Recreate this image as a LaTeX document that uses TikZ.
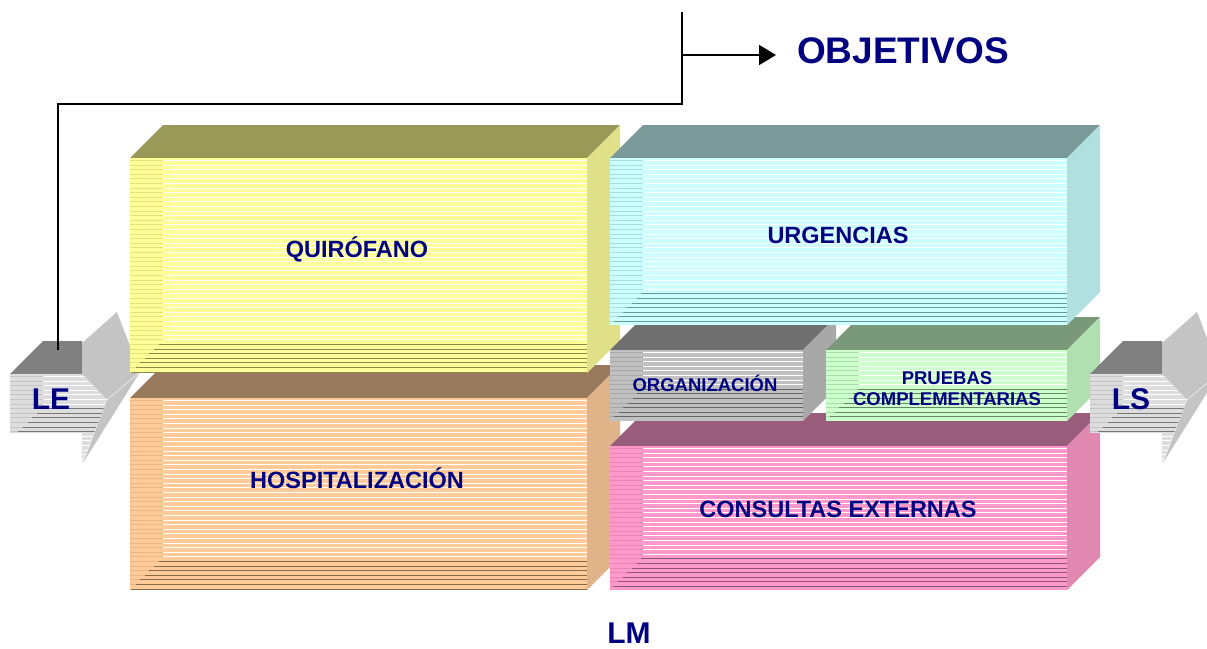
\documentclass[tikz,border=0pt]{standalone}
\usepackage{fontspec}
\setmainfont{Liberation Sans}
\usetikzlibrary{arrows.meta}
\definecolor{navy}{HTML}{000080}
\definecolor{quiF}{HTML}{FFFF99}\definecolor{quiT}{HTML}{999958}\definecolor{quiS}{HTML}{E0E088}\definecolor{quiB}{HTML}{E8E07E}\definecolor{quiD}{HTML}{8A8A48}
\definecolor{urgF}{HTML}{CCFFFF}\definecolor{urgT}{HTML}{7A9999}\definecolor{urgS}{HTML}{B0E0E0}\definecolor{urgB}{HTML}{A8E0E0}\definecolor{urgD}{HTML}{669999}
\definecolor{hosF}{HTML}{FFCC99}\definecolor{hosT}{HTML}{997A5C}\definecolor{hosS}{HTML}{E0B488}\definecolor{hosB}{HTML}{EAB684}\definecolor{hosD}{HTML}{86684C}
\definecolor{orgF}{HTML}{C0C0C0}\definecolor{orgT}{HTML}{707070}\definecolor{orgS}{HTML}{A8A8A8}\definecolor{orgB}{HTML}{A8A8A8}\definecolor{orgD}{HTML}{666666}
\definecolor{pruF}{HTML}{CCFFCC}\definecolor{pruT}{HTML}{7A997A}\definecolor{pruS}{HTML}{B0E0B0}\definecolor{pruB}{HTML}{ACDCAC}\definecolor{pruD}{HTML}{668866}
\definecolor{conF}{HTML}{FF99CC}\definecolor{conT}{HTML}{995C7A}\definecolor{conS}{HTML}{E088B0}\definecolor{conB}{HTML}{E688B4}\definecolor{conD}{HTML}{8A5A74}
\definecolor{arrF}{HTML}{DDDDDD}\definecolor{arrT}{HTML}{808080}\definecolor{arrS}{HTML}{C4C4C4}\definecolor{arrB}{HTML}{C4C4C4}\definecolor{arrD}{HTML}{777777}
% stripes: x0 y0 x1 y1 band dark shadowbottom shadowdepth
\newcommand{\mystripes}[8]{%
  \pgfmathtruncatemacro{\nn}{(#4-#2-2)/4.6}%
  \foreach \i in {0,...,\nn}{%
    \pgfmathsetmacro{\yy}{#2+2.5+4.6*\i}%
    \pgfmathsetmacro{\dd}{\yy-(#7-#8)}%
    \pgfmathtruncatemacro{\wh}{(\dd<0 || \yy>#7) ? 1 : 0}%
    \draw[#5] (#1,\yy) -- (#1+33,\yy);%
    \ifnum\wh=1 \draw[white] (#1+33,\yy) -- (#3,\yy);%
    \else \draw[#6] (#1+33-\dd,\yy) -- (#3,\yy);\fi
  }}
% cuboid: x0 y0 x1 y1 prefix
\newcommand{\mycuboid}[5]{%
  \fill[#5T] (#1,#2) -- (#1+33,#2-33) -- (#3+33,#2-33) -- (#3,#2) -- cycle;
  \fill[#5S] (#3,#2) -- (#3+33,#2-33) -- (#3+33,#4-33) -- (#3,#4) -- cycle;
  \fill[#5F] (#1,#2) rectangle (#3,#4);
  \begin{scope}[line width=1pt]
  \mystripes{#1}{#2}{#3}{#4}{#5B}{#5D}{#4}{33}
  \end{scope}}
% 3D arrow with x offset
\newcommand{\myarrow}[1]{%
  \begin{scope}[xshift=#1pt]
  \fill[arrT] (10,374) -- (43,341) -- (82,341) -- (82,374) -- cycle;
  \fill[arrS] (82,374) -- (82,343) -- (117,312) -- (140,372) -- (83,463) -- (107,400) -- cycle;
  \draw[white!90!gray, line width=0.6pt] (107,400) -- (140,372);
  \fill[arrF] (10,374) -- (82,374) -- (107,400) -- (82,463) -- (82,433) -- (10,433) -- cycle;
  \begin{scope}
  \clip (10,374) -- (82,374) -- (107,400) -- (82,463) -- (82,433) -- (10,433) -- cycle;
  \begin{scope}[line width=1pt]
  \mystripes{10}{374}{110}{463}{arrB}{arrD}{433}{26}
  \end{scope}
  \end{scope}
  \end{scope}}
\tikzset{
  lbl/.style={font=\bfseries\fontsize{23.5}{26}\selectfont, text=navy, inner sep=0pt},
  slbl/.style={font=\bfseries\fontsize{18.5}{21}\selectfont, text=navy, inner sep=0pt, align=center},
  big/.style={font=\bfseries\fontsize{30}{32}\selectfont, text=navy, inner sep=0pt},
  conn/.style={line width=1.8pt, black},
}
\begin{document}
\begin{tikzpicture}[x=1pt,y=-1pt]
\useasboundingbox (0,0) rectangle (1207,648);
% left arrow (behind boxes)
\myarrow{0}
% boxes
\mycuboid{130}{398}{587}{590}{hos}
\mycuboid{130}{158}{587}{373}{qui}
\mycuboid{610}{446}{1067}{590}{con}
\mycuboid{610}{350}{803}{421}{org}
\mycuboid{826}{350}{1067}{421}{pru}
\mycuboid{610}{158}{1067}{325}{urg}
% right arrow (in front)
\myarrow{1080}
% labels
\node[lbl] (qui) at (357,249) {QUIRÓFANO};
\node[lbl] (urg) at (838,235) {URGENCIAS};
\node[lbl] (hos) at (357,478) {HOSPITALIZACIÓN};
\node[lbl] (con) at (838,509) {CONSULTAS EXTERNAS};
\node[slbl] (org) at (705,383) {ORGANIZACIÓN};
\node[slbl] (pru) at (947,389) {PRUEBAS\\COMPLEMENTARIAS};
\node[big] (le) at (51,399) {LE};
\node[big] (ls) at (1131,399) {LS};
\node[big] (lm) at (629,633) {LM};
\node[big, anchor=west, font=\bfseries\fontsize{37}{40}\selectfont] (obj) at (797,51) {OBJETIVOS};
% connector
\coordinate (le-top) at (58,350);
\coordinate (trunk-bot) at (682,104);
\coordinate (trunk-top) at (682,12);
\coordinate (obj-in) at (776,55);
\draw[conn] (le-top) |- (trunk-bot) -- (trunk-top);
\draw[conn, -{Triangle[length=17pt,width=20pt]}] (trunk-top |- obj-in) -- (obj-in);
\end{tikzpicture}
\end{document}
